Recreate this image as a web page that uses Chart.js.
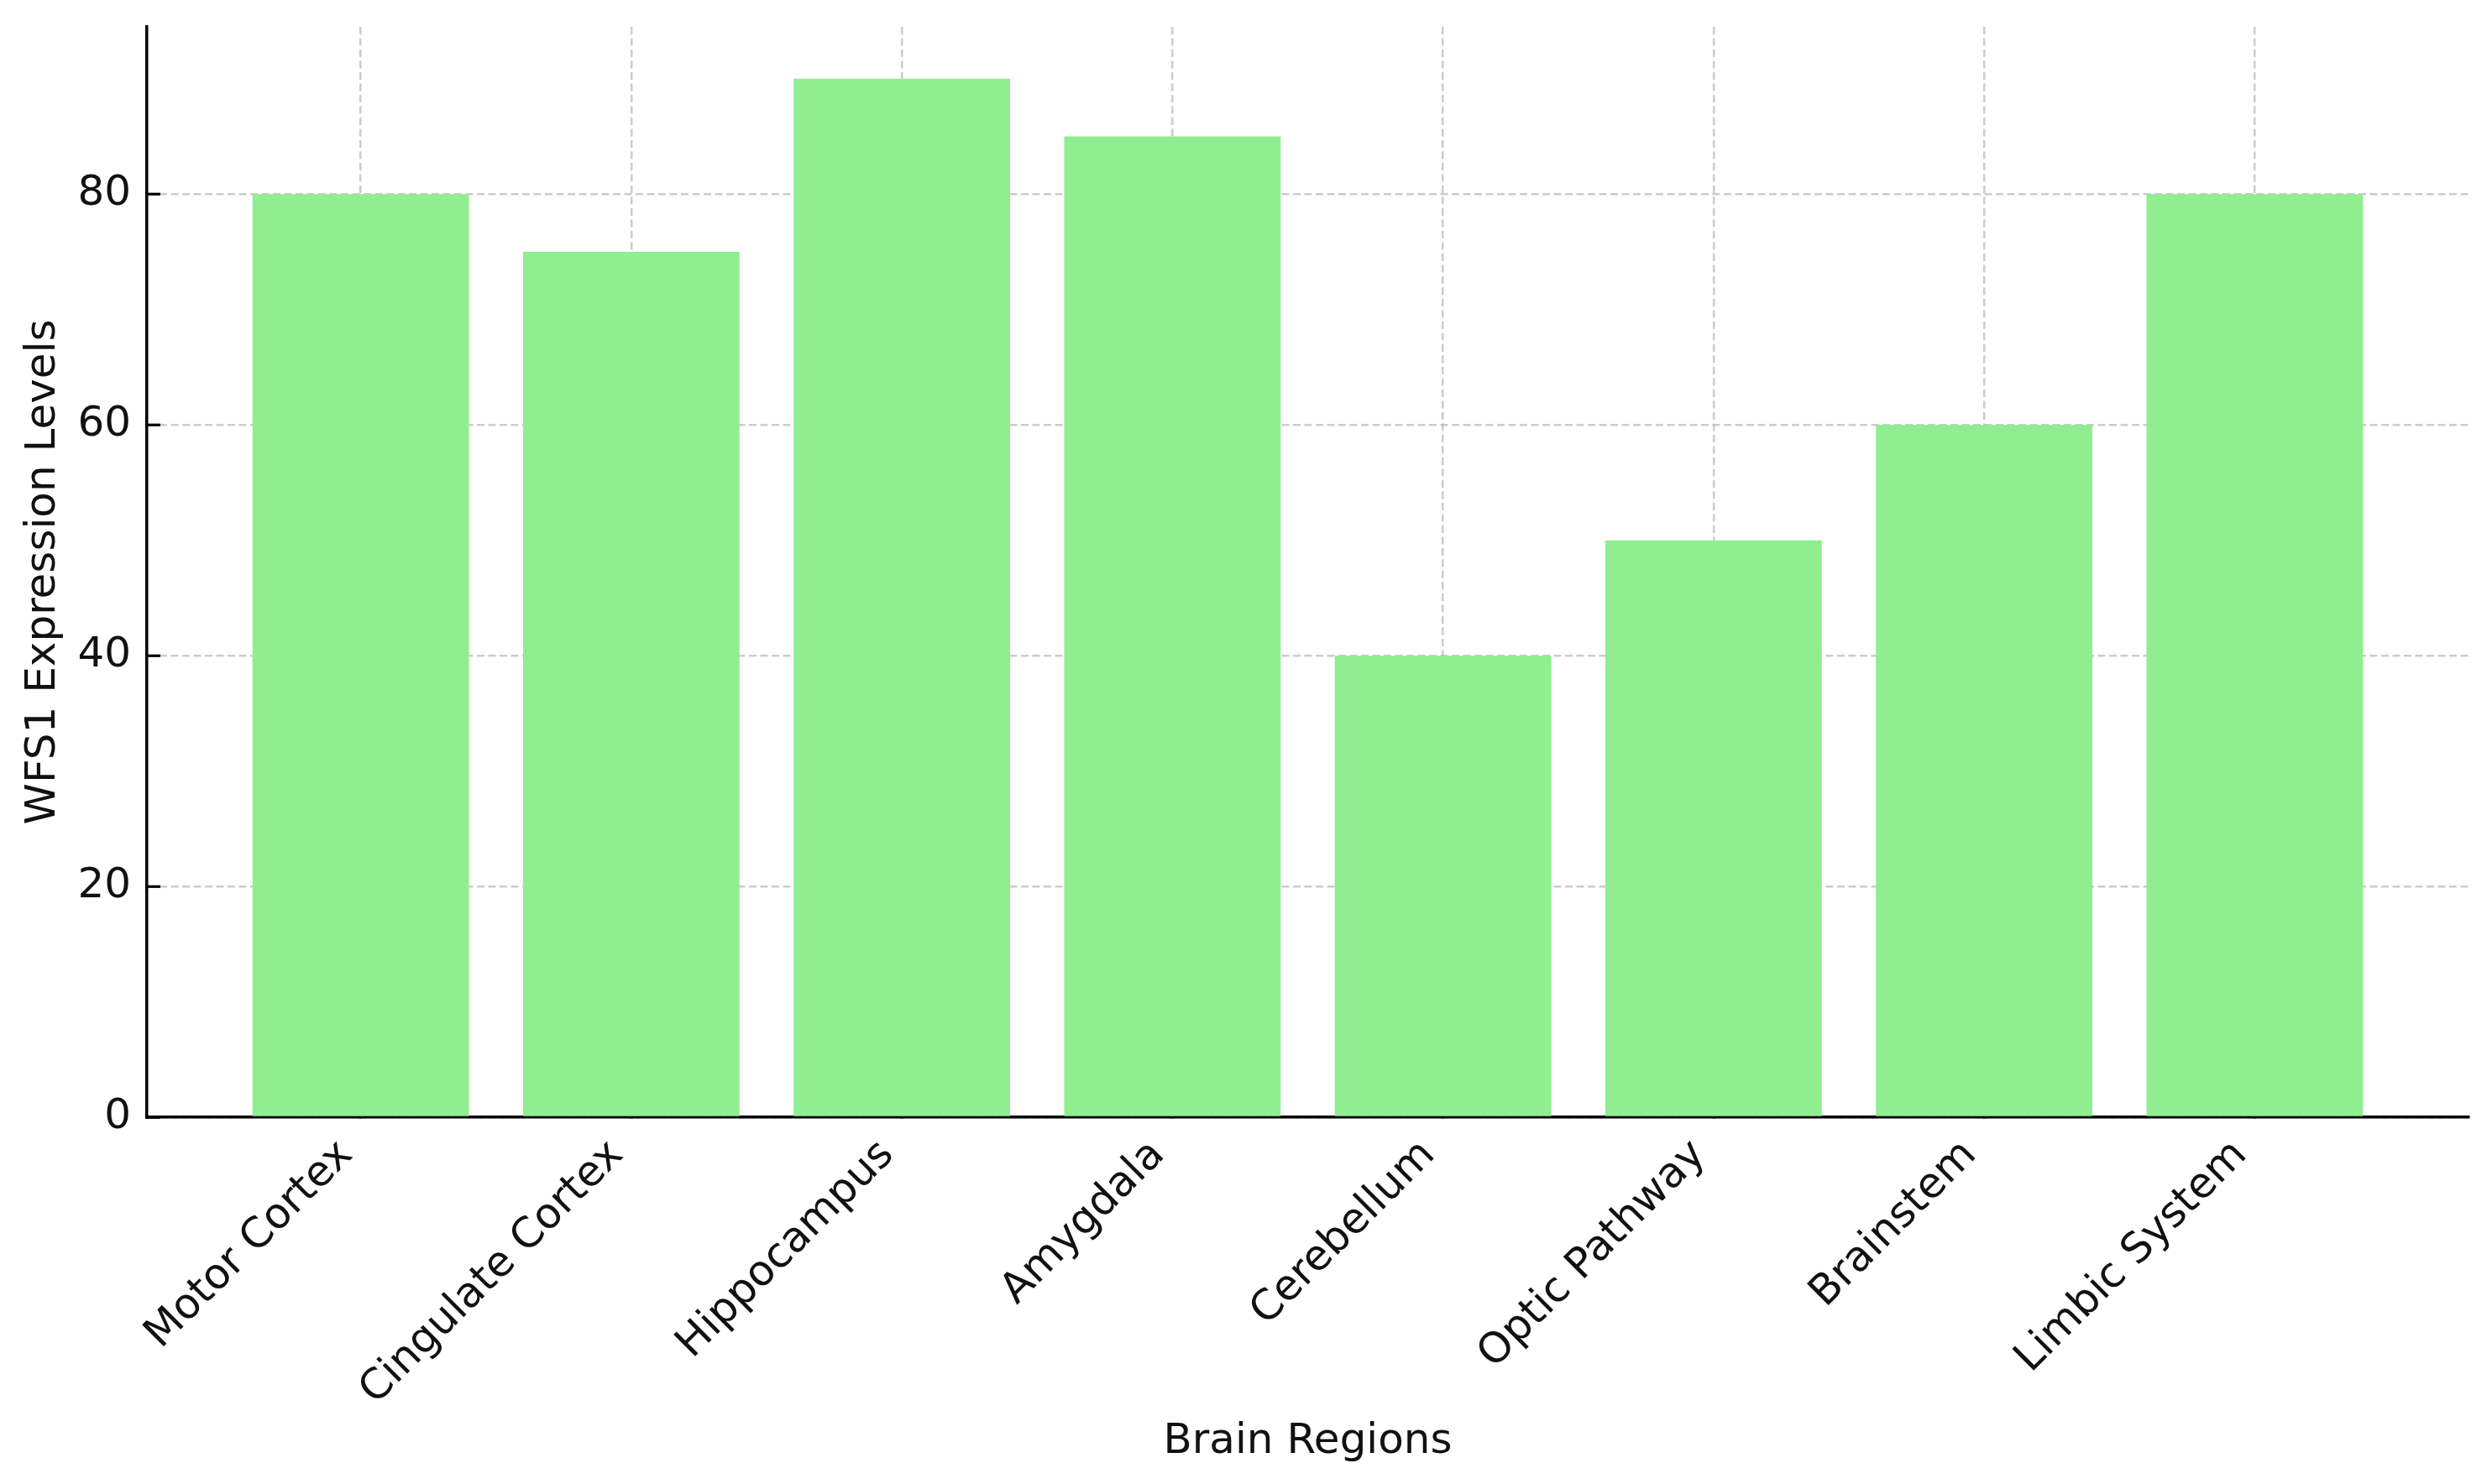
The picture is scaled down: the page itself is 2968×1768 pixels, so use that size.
<!DOCTYPE html>
<html>
<head>
<meta charset="utf-8">
<script src="https://cdn.jsdelivr.net/npm/chart.js@4/dist/chart.umd.min.js"></script>
<style>
  html, body { margin: 0; padding: 0; background: #ffffff; }
  #wrap { width: 2968px; height: 1768px; position: relative; }
</style>
</head>
<body>
<div id="wrap"><canvas id="c"></canvas></div>
<script>
// ---- data ----
const categories = ["Motor Cortex", "Cingulate Cortex", "Hippocampus", "Amygdala", "Cerebellum", "Optic Pathway", "Brainstem", "Limbic System"];
const expressionLevels = [80, 75, 90, 85, 40, 50, 60, 80];
const yTickValues = [0, 20, 40, 60, 80];
const xAxisTitle = "Brain Regions";
const yAxisTitle = "WFS1 Expression Levels";

const FONT = "'DejaVu Sans', 'Liberation Sans', sans-serif";
const FSIZE = 50;
const TEXT = '#111111';
const GRID = 'rgba(170,170,170,0.6)';

const points = expressionLevels.map((v, i) => ({ x: i, y: v }));

new Chart(document.getElementById('c'), {
  type: 'bar',
  data: {
    datasets: [{
      data: points,
      backgroundColor: '#90EE90',
      borderWidth: 0,
      categoryPercentage: 1.0,
      barPercentage: 0.8
    }]
  },
  options: {
    responsive: true,
    maintainAspectRatio: false,
    animation: false,
    devicePixelRatio: 1,
    layout: { padding: { top: 32, right: 28, left: 0, bottom: 0 } },
    plugins: { legend: { display: false }, tooltip: { enabled: false } },
    scales: {
      x: {
        type: 'linear',
        min: -0.79,
        max: 7.79,
        offset: false,
        z: 1,
        afterBuildTicks: (s) => { s.ticks = categories.map((_, i) => ({ value: i })); },
        afterFit: (s) => { s.height = 437; s.paddingLeft = 0; s.paddingRight = 0; },
        grid: {
          display: true,
          offset: false,
          color: GRID,
          lineWidth: 2.5,
          drawTicks: true,
          tickLength: -16,
          tickColor: '#000000',
          tickWidth: 3.2,
          tickBorderDash: []
        },
        border: { display: true, color: '#000000', width: 3.5, dash: [9, 4.5] },
        ticks: {
          autoSkip: false,
          minRotation: 45,
          maxRotation: 45,
          padding: 32,
          labelOffset: -17,
          color: TEXT,
          font: { family: FONT, size: FSIZE },
          callback: (v) => categories[v] !== undefined ? categories[v] : ''
        },
        title: {
          display: true,
          text: xAxisTitle,
          color: TEXT,
          font: { family: FONT, size: FSIZE },
          padding: { top: 0, bottom: 20 }
        }
      },
      y: {
        type: 'linear',
        min: 0,
        max: 94.5,
        z: 1,
        afterBuildTicks: (s) => { s.ticks = yTickValues.map(v => ({ value: v })); },
        afterFit: (s) => { s.width = 175; s.paddingTop = 0; s.paddingBottom = 0; },
        grid: {
          display: true,
          color: GRID,
          lineWidth: 2.5,
          drawTicks: true,
          tickLength: -16,
          tickColor: '#000000',
          tickWidth: 3.2,
          tickBorderDash: []
        },
        border: { display: true, color: '#000000', width: 3.5, dash: [9, 4.5] },
        ticks: {
          padding: 35,
          color: TEXT,
          font: { family: FONT, size: FSIZE },
          callback: (v) => String(v)
        },
        title: {
          display: true,
          text: yAxisTitle,
          color: TEXT,
          font: { family: FONT, size: FSIZE },
          padding: { top: 22, bottom: 0 }
        }
      }
    }
  }
});
</script>
</body>
</html>
